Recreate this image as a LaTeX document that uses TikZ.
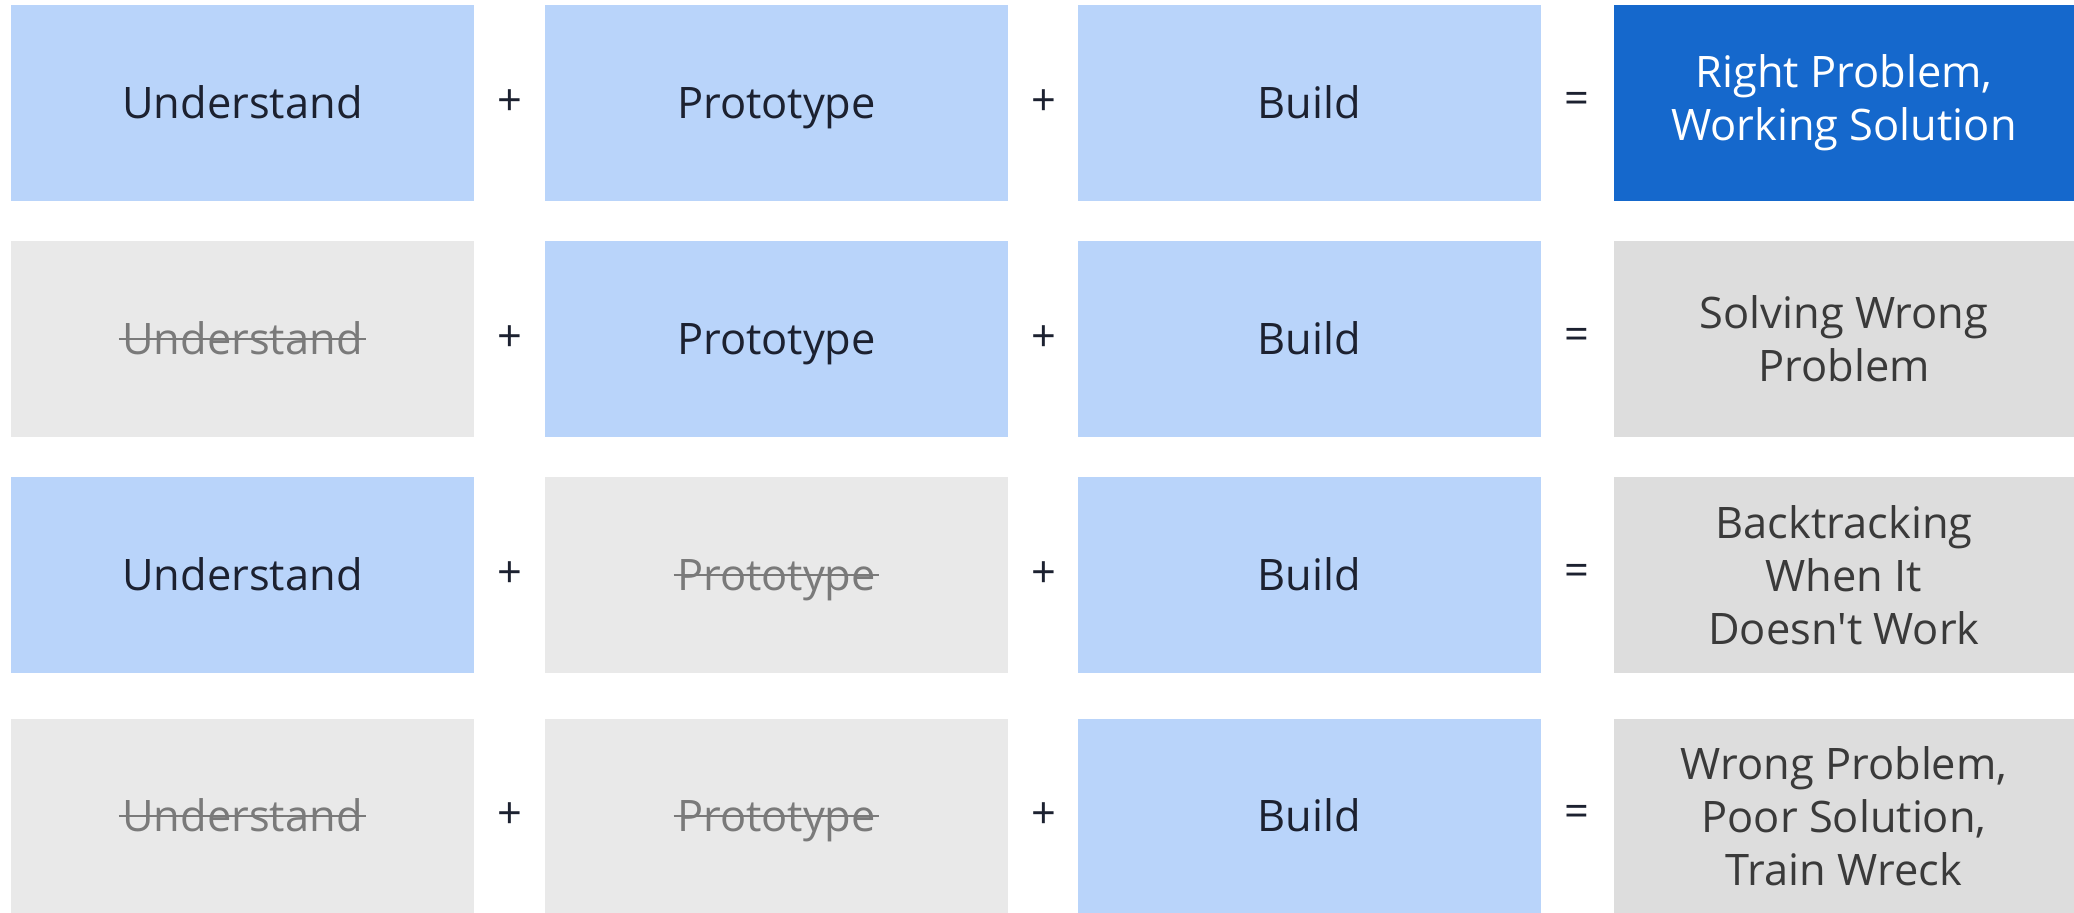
\documentclass[tikz,border=0pt]{standalone}
\usepackage{fontspec}
\setmainfont{Open Sans}
\newfontfamily\rawsans{Open Sans}
\definecolor{lblue}{RGB}{185,212,250}
\definecolor{offgray}{RGB}{233,233,233}
\definecolor{resgray}{RGB}{221,221,221}
\definecolor{dblue}{RGB}{21,104,204}
\definecolor{txtdark}{RGB}{28,33,48}
\definecolor{txtgray}{RGB}{122,122,122}
\definecolor{txtres}{RGB}{58,58,58}
\newcommand{\strk}[3]{%
  \node[strucklbl] (#1) at (#2) {#3};
  \draw[strikeline] ([xshift=-1.5pt,yshift=7.8pt]#1.base west) -- ([xshift=1.5pt,yshift=7.8pt]#1.base east);}
\begin{document}
\begin{tikzpicture}[x=0.5pt,y=-0.5pt,
  cell/.style={minimum width=231.5pt, minimum height=98pt, inner sep=0pt, outer sep=0pt, anchor=center},
  onbox/.style={cell, fill=lblue},
  offbox/.style={cell, fill=offgray},
  lbl/.style={font=\fontsize{21.7}{26.5}\selectfont, text=txtdark, inner sep=0pt, anchor=base},
  strucklbl/.style={lbl, text=txtgray},
  strikeline/.style={draw=txtgray, line width=1.3pt},
  resbox/.style={cell, minimum width=230pt, align=center, font=\fontsize{21.7}{26.5}\selectfont, text=txtres, fill=resgray},
  opsym/.style={font=\fontsize{21.7}{26.5}\selectfont, text=txtdark, inner sep=0pt, anchor=center}]
\useasboundingbox (0,0) rectangle (2074,913);
\fill[white] (0,0) rectangle (2074,913);

% Row 1
\node[onbox] (a1) at (242.5,103) {};
\node[lbl] (a1t) at (242.5,118.5) {Understand};
\node[opsym] (p11) at (510,103) {+};
\node[onbox] (b1) at (776.5,103) {};
\node[lbl] (b1t) at (776.5,118.5) {Prototype};
\node[opsym] (p12) at (1044,103) {+};
\node[onbox] (c1) at (1309.5,103) {};
\node[lbl] (c1t) at (1309.5,118.5) {Build};
\node[opsym] (e1) at (1577,103) {=};
\node[resbox, fill=dblue, text=white] (r1) at (1844,103) {Right Problem,\\Working Solution};

% Row 2
\node[offbox] (a2) at (242.5,339) {};
\strk{a2t}{242.5,354.5}{Understand}
\node[opsym] (p21) at (510,339) {+};
\node[onbox] (b2) at (776.5,339) {};
\node[lbl] (b2t) at (776.5,354.5) {Prototype};
\node[opsym] (p22) at (1044,339) {+};
\node[onbox] (c2) at (1309.5,339) {};
\node[lbl] (c2t) at (1309.5,354.5) {Build};
\node[opsym] (e2) at (1577,339) {=};
\node[resbox] (r2) at (1844,339) {Solving Wrong\\Problem};

% Row 3
\node[onbox] (a3) at (242.5,575) {};
\node[lbl] (a3t) at (242.5,590.5) {Understand};
\node[opsym] (p31) at (510,575) {+};
\node[offbox] (b3) at (776.5,575) {};
\strk{b3t}{776.5,590.5}{Prototype}
\node[opsym] (p32) at (1044,575) {+};
\node[onbox] (c3) at (1309.5,575) {};
\node[lbl] (c3t) at (1309.5,590.5) {Build};
\node[opsym] (e3) at (1577,575) {=};
\node[resbox] (r3) at (1844,575) {Backtracking\\When It\\{\rawsans Doesn't Work}};

% Row 4
\node[offbox, minimum height=97pt] (a4) at (242.5,816) {};
\strk{a4t}{242.5,831.5}{Understand}
\node[opsym] (p41) at (510,816) {+};
\node[offbox, minimum height=97pt] (b4) at (776.5,816) {};
\strk{b4t}{776.5,831.5}{Prototype}
\node[opsym] (p42) at (1044,816) {+};
\node[onbox, minimum height=97pt] (c4) at (1309.5,816) {};
\node[lbl] (c4t) at (1309.5,831.5) {Build};
\node[opsym] (e4) at (1577,816) {=};
\node[resbox, minimum height=97pt] (r4) at (1844,816) {Wrong Problem,\\Poor Solution,\\Train Wreck};
\end{tikzpicture}
\end{document}
